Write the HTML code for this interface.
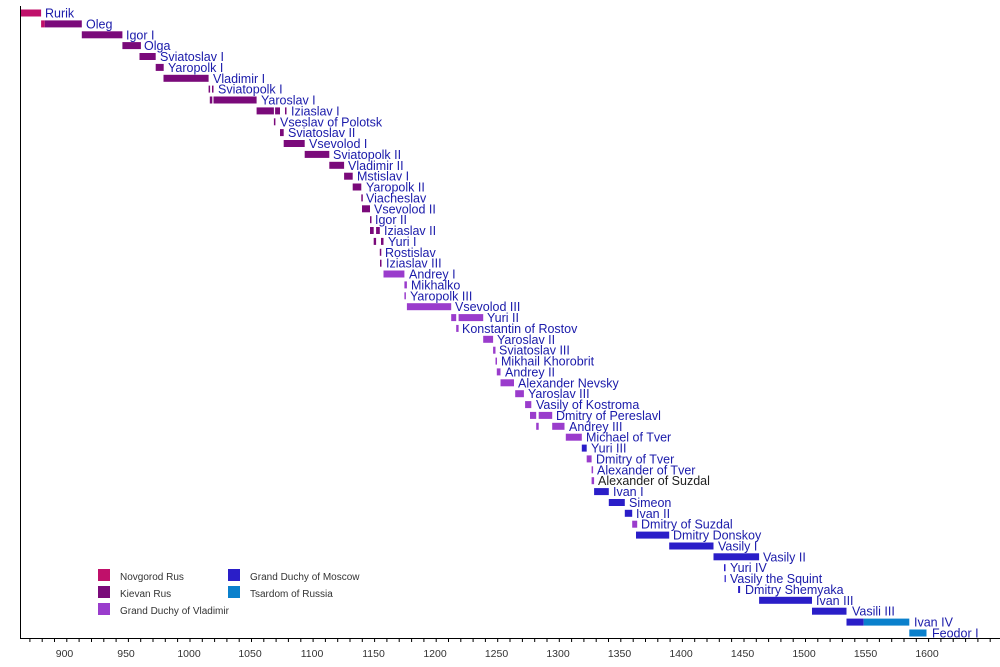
<!DOCTYPE html>
<html><head><meta charset="utf-8"><style>
html,body{margin:0;padding:0;background:#fff;}
svg{display:block;font-family:"Liberation Sans",sans-serif;}
.l{font-size:12.5px;fill:#1a1aaa;}
.N{fill:#c0106a}.K{fill:#7a0a7a}.V{fill:#9a3ccc}.M{fill:#2a1ec8}.T{fill:#0a80cc}
.lg{font-size:10px;fill:#333;}
.tk{font-size:10.5px;fill:#333;text-anchor:middle;}
</style></head><body>
<svg width="1000" height="667" viewBox="0 0 1000 667">
<g transform="translate(0,13)"><rect class="N" x="20.2" y="-3.5" width="20.9" height="7"/><text class="l" x="45" y="4.5">Rurik</text></g>
<g transform="translate(0,23.9)"><rect class="N" x="41.1" y="-3.5" width="3.7" height="7"/><rect class="K" x="44.8" y="-3.5" width="37" height="7"/><text class="l" x="86" y="4.5">Oleg</text></g>
<g transform="translate(0,34.8)"><rect class="K" x="81.8" y="-3.5" width="40.6" height="7"/><text class="l" x="126" y="4.5">Igor I</text></g>
<g transform="translate(0,45.6)"><rect class="K" x="122.4" y="-3.5" width="18.5" height="7"/><text class="l" x="144" y="4.5">Olga</text></g>
<g transform="translate(0,56.5)"><rect class="K" x="139.5" y="-3.5" width="16.2" height="7"/><text class="l" x="160" y="4.5">Sviatoslav I</text></g>
<g transform="translate(0,67.4)"><rect class="K" x="155.7" y="-3.5" width="8" height="7"/><text class="l" x="168" y="4.5">Yaropolk I</text></g>
<g transform="translate(0,78.3)"><rect class="K" x="163.5" y="-3.5" width="45.1" height="7"/><text class="l" x="213" y="4.5">Vladimir I</text></g>
<g transform="translate(0,89.1)"><rect class="K" x="208.6" y="-3.5" width="1.5" height="7"/><rect class="K" x="212" y="-3.5" width="1.5" height="7"/><text class="l" x="218" y="4.5">Sviatopolk I</text></g>
<g transform="translate(0,100)"><rect class="K" x="209.8" y="-3.5" width="2.5" height="7"/><rect class="K" x="213.5" y="-3.5" width="43.1" height="7"/><text class="l" x="261" y="4.5">Yaroslav I</text></g>
<g transform="translate(0,110.9)"><rect class="K" x="256.6" y="-3.5" width="17.3" height="7"/><rect class="K" x="275.1" y="-3.5" width="4.9" height="7"/><rect class="K" x="285" y="-3.5" width="1.5" height="7"/><text class="l" x="291" y="4.5">Iziaslav I</text></g>
<g transform="translate(0,121.8)"><rect class="K" x="273.9" y="-3.5" width="1.5" height="7"/><text class="l" x="280" y="4.5">Vseslav of Polotsk</text></g>
<g transform="translate(0,132.6)"><rect class="K" x="280" y="-3.5" width="3.7" height="7"/><text class="l" x="288" y="4.5">Sviatoslav II</text></g>
<g transform="translate(0,143.5)"><rect class="K" x="283.7" y="-3.5" width="21" height="7"/><text class="l" x="309" y="4.5">Vsevolod I</text></g>
<g transform="translate(0,154.4)"><rect class="K" x="304.7" y="-3.5" width="24.6" height="7"/><text class="l" x="333" y="4.5">Sviatopolk II</text></g>
<g transform="translate(0,165.3)"><rect class="K" x="329.3" y="-3.5" width="14.8" height="7"/><text class="l" x="348" y="4.5">Vladimir II</text></g>
<g transform="translate(0,176.2)"><rect class="K" x="344.1" y="-3.5" width="8.6" height="7"/><text class="l" x="357" y="4.5">Mstislav I</text></g>
<g transform="translate(0,187)"><rect class="K" x="352.7" y="-3.5" width="8.6" height="7"/><text class="l" x="366" y="4.5">Yaropolk II</text></g>
<g transform="translate(0,197.9)"><rect class="K" x="361.3" y="-3.5" width="1.5" height="7"/><text class="l" x="366" y="4.5">Viacheslav</text></g>
<g transform="translate(0,208.8)"><rect class="K" x="362" y="-3.5" width="8" height="7"/><text class="l" x="374" y="4.5">Vsevolod II</text></g>
<g transform="translate(0,219.7)"><rect class="K" x="370" y="-3.5" width="1.5" height="7"/><text class="l" x="375" y="4.5">Igor II</text></g>
<g transform="translate(0,230.5)"><rect class="K" x="370" y="-3.5" width="3.7" height="7"/><rect class="K" x="376.1" y="-3.5" width="3.7" height="7"/><text class="l" x="384" y="4.5">Iziaslav II</text></g>
<g transform="translate(0,241.4)"><rect class="K" x="373.7" y="-3.5" width="2.4" height="7"/><rect class="K" x="381" y="-3.5" width="2.5" height="7"/><text class="l" x="388" y="4.5">Yuri I</text></g>
<g transform="translate(0,252.3)"><rect class="K" x="379.8" y="-3.5" width="1.5" height="7"/><text class="l" x="385" y="4.5">Rostislav</text></g>
<g transform="translate(0,263.2)"><rect class="K" x="380" y="-3.5" width="1.5" height="7"/><text class="l" x="386" y="4.5">Iziaslav III</text></g>
<g transform="translate(0,274)"><rect class="V" x="383.5" y="-3.5" width="20.9" height="7"/><text class="l" x="409" y="4.5">Andrey I</text></g>
<g transform="translate(0,284.9)"><rect class="V" x="404.4" y="-3.5" width="2.5" height="7"/><text class="l" x="411" y="4.5">Mikhalko</text></g>
<g transform="translate(0,295.8)"><rect class="V" x="404.4" y="-3.5" width="1.5" height="7"/><text class="l" x="410" y="4.5">Yaropolk III</text></g>
<g transform="translate(0,306.7)"><rect class="V" x="406.9" y="-3.5" width="44.3" height="7"/><text class="l" x="455" y="4.5">Vsevolod III</text></g>
<g transform="translate(0,317.6)"><rect class="V" x="451.2" y="-3.5" width="5" height="7"/><rect class="V" x="458.6" y="-3.5" width="24.6" height="7"/><text class="l" x="487" y="4.5">Yuri II</text></g>
<g transform="translate(0,328.4)"><rect class="V" x="456.2" y="-3.5" width="2.4" height="7"/><text class="l" x="462" y="4.5">Konstantin of Rostov</text></g>
<g transform="translate(0,339.3)"><rect class="V" x="483.2" y="-3.5" width="9.9" height="7"/><text class="l" x="497" y="4.5">Yaroslav II</text></g>
<g transform="translate(0,350.2)"><rect class="V" x="493.1" y="-3.5" width="2.4" height="7"/><text class="l" x="499" y="4.5">Sviatoslav III</text></g>
<g transform="translate(0,361.1)"><rect class="V" x="495.5" y="-3.5" width="1.5" height="7"/><text class="l" x="501" y="4.5">Mikhail Khorobrit</text></g>
<g transform="translate(0,371.9)"><rect class="V" x="496.8" y="-3.5" width="3.7" height="7"/><text class="l" x="505" y="4.5">Andrey II</text></g>
<g transform="translate(0,382.8)"><rect class="V" x="500.5" y="-3.5" width="13.5" height="7"/><text class="l" x="518" y="4.5">Alexander Nevsky</text></g>
<g transform="translate(0,393.7)"><rect class="V" x="515.2" y="-3.5" width="8.7" height="7"/><text class="l" x="528" y="4.5">Yaroslav III</text></g>
<g transform="translate(0,404.6)"><rect class="V" x="525.1" y="-3.5" width="6.2" height="7"/><text class="l" x="536" y="4.5">Vasily of Kostroma</text></g>
<g transform="translate(0,415.4)"><rect class="V" x="530" y="-3.5" width="6.2" height="7"/><rect class="V" x="538.7" y="-3.5" width="13.5" height="7"/><text class="l" x="556" y="4.5">Dmitry of Pereslavl</text></g>
<g transform="translate(0,426.3)"><rect class="V" x="536.2" y="-3.5" width="2.5" height="7"/><rect class="V" x="552.2" y="-3.5" width="12.3" height="7"/><text class="l" x="569" y="4.5">Andrey III</text></g>
<g transform="translate(0,437.2)"><rect class="V" x="565.8" y="-3.5" width="16" height="7"/><text class="l" x="586" y="4.5">Michael of Tver</text></g>
<g transform="translate(0,448.1)"><rect class="M" x="581.8" y="-3.5" width="4.9" height="7"/><text class="l" x="591" y="4.5">Yuri III</text></g>
<g transform="translate(0,458.9)"><rect class="V" x="586.7" y="-3.5" width="4.9" height="7"/><text class="l" x="596" y="4.5">Dmitry of Tver</text></g>
<g transform="translate(0,469.8)"><rect class="V" x="591.6" y="-3.5" width="1.5" height="7"/><text class="l" x="597" y="4.5">Alexander of Tver</text></g>
<g transform="translate(0,480.7)"><rect class="V" x="591.6" y="-3.5" width="2.5" height="7"/><text class="l" x="598" y="4.5" style="fill:#222">Alexander of Suzdal</text></g>
<g transform="translate(0,491.6)"><rect class="M" x="594.1" y="-3.5" width="14.7" height="7"/><text class="l" x="613" y="4.5">Ivan I</text></g>
<g transform="translate(0,502.5)"><rect class="M" x="608.8" y="-3.5" width="16" height="7"/><text class="l" x="629" y="4.5">Simeon</text></g>
<g transform="translate(0,513.3)"><rect class="M" x="624.8" y="-3.5" width="7.4" height="7"/><text class="l" x="636" y="4.5">Ivan II</text></g>
<g transform="translate(0,524.2)"><rect class="V" x="632.2" y="-3.5" width="5" height="7"/><text class="l" x="641" y="4.5">Dmitry of Suzdal</text></g>
<g transform="translate(0,535.1)"><rect class="M" x="636" y="-3.5" width="33.2" height="7"/><text class="l" x="673" y="4.5">Dmitry Donskoy</text></g>
<g transform="translate(0,546)"><rect class="M" x="669.2" y="-3.5" width="44.3" height="7"/><text class="l" x="718" y="4.5">Vasily I</text></g>
<g transform="translate(0,556.8)"><rect class="M" x="713.5" y="-3.5" width="45.6" height="7"/><text class="l" x="763" y="4.5">Vasily II</text></g>
<g transform="translate(0,567.7)"><rect class="M" x="724" y="-3.5" width="1.5" height="7"/><text class="l" x="730" y="4.5">Yuri IV</text></g>
<g transform="translate(0,578.6)"><rect class="M" x="724.6" y="-3.5" width="1.2" height="7"/><text class="l" x="730" y="4.5">Vasily the Squint</text></g>
<g transform="translate(0,589.5)"><rect class="M" x="738.1" y="-3.5" width="2" height="7"/><text class="l" x="745" y="4.5">Dmitry Shemyaka</text></g>
<g transform="translate(0,600.3)"><rect class="M" x="759.1" y="-3.5" width="52.9" height="7"/><text class="l" x="816" y="4.5">Ivan III</text></g>
<g transform="translate(0,611.2)"><rect class="M" x="812" y="-3.5" width="34.5" height="7"/><text class="l" x="852" y="4.5">Vasili III</text></g>
<g transform="translate(0,622.1)"><rect class="M" x="846.5" y="-3.5" width="17.2" height="7"/><rect class="T" x="863.7" y="-3.5" width="45.6" height="7"/><text class="l" x="914" y="4.5">Ivan IV</text></g>
<g transform="translate(0,633)"><rect class="T" x="909.3" y="-3.5" width="17.2" height="7"/><text class="l" x="932" y="4.5">Feodor I</text></g>

<!-- legend -->
<rect class="N" x="98" y="569" width="12" height="12"/><text class="lg" x="120" y="580">Novgorod Rus</text>
<rect class="K" x="98" y="586" width="12" height="12"/><text class="lg" x="120" y="597">Kievan Rus</text>
<rect class="V" x="98" y="603" width="12" height="12"/><text class="lg" x="120" y="614">Grand Duchy of Vladimir</text>
<rect class="M" x="228" y="569" width="12" height="12"/><text class="lg" x="250" y="580">Grand Duchy of Moscow</text>
<rect class="T" x="228" y="586" width="12" height="12"/><text class="lg" x="250" y="597">Tsardom of Russia</text>

<!-- axes -->
<line x1="20.5" y1="6" x2="20.5" y2="638" stroke="#000" stroke-width="1"/>
<line x1="20" y1="638.5" x2="1000" y2="638.5" stroke="#000" stroke-width="1"/>
<g stroke="#000" stroke-width="1">
<path d="M29.9 638v4M42.2 638v4M54.5 638v4M66.8 638v4M79.1 638v4M91.5 638v4M103.8 638v4M116.1 638v4M128.4 638v4M140.7 638v4M153.0 638v4M165.3 638v4M177.6 638v4M190 638v4M202.3 638v4M214.6 638v4M226.9 638v4M239.2 638v4M251.5 638v4M263.8 638v4M276.1 638v4M288.4 638v4M300.8 638v4M313.1 638v4M325.4 638v4M337.7 638v4M350.0 638v4M362.3 638v4M374.6 638v4M386.9 638v4M399.2 638v4M411.6 638v4M423.9 638v4M436.2 638v4M448.5 638v4M460.8 638v4M473.1 638v4M485.4 638v4M497.7 638v4M510 638v4M522.4 638v4M534.7 638v4M547.0 638v4M559.3 638v4M571.6 638v4M583.9 638v4M596.2 638v4M608.5 638v4M620.8 638v4M633.2 638v4M645.5 638v4M657.8 638v4M670.1 638v4M682.4 638v4M694.7 638v4M707.0 638v4M719.3 638v4M731.6 638v4M744 638v4M756.3 638v4M768.6 638v4M780.9 638v4M793.2 638v4M805.5 638v4M817.8 638v4M830.1 638v4M842.4 638v4M854.8 638v4M867.1 638v4M879.4 638v4M891.7 638v4M904.0 638v4M916.3 638v4M928.6 638v4M940.9 638v4M953.2 638v4M965.6 638v4M977.9 638v4M990.2 638v4"/>
</g>
<g class="tk">
<text x="64.5" y="657">900</text><text x="126" y="657">950</text><text x="189" y="657">1000</text><text x="250" y="657">1050</text><text x="312" y="657">1100</text><text x="373.5" y="657">1150</text><text x="435" y="657">1200</text><text x="496.5" y="657">1250</text><text x="558" y="657">1300</text><text x="619.5" y="657">1350</text><text x="681" y="657">1400</text><text x="742.5" y="657">1450</text><text x="804" y="657">1500</text><text x="865.5" y="657">1550</text><text x="927" y="657">1600</text>
</g>
</svg>
</body></html>
